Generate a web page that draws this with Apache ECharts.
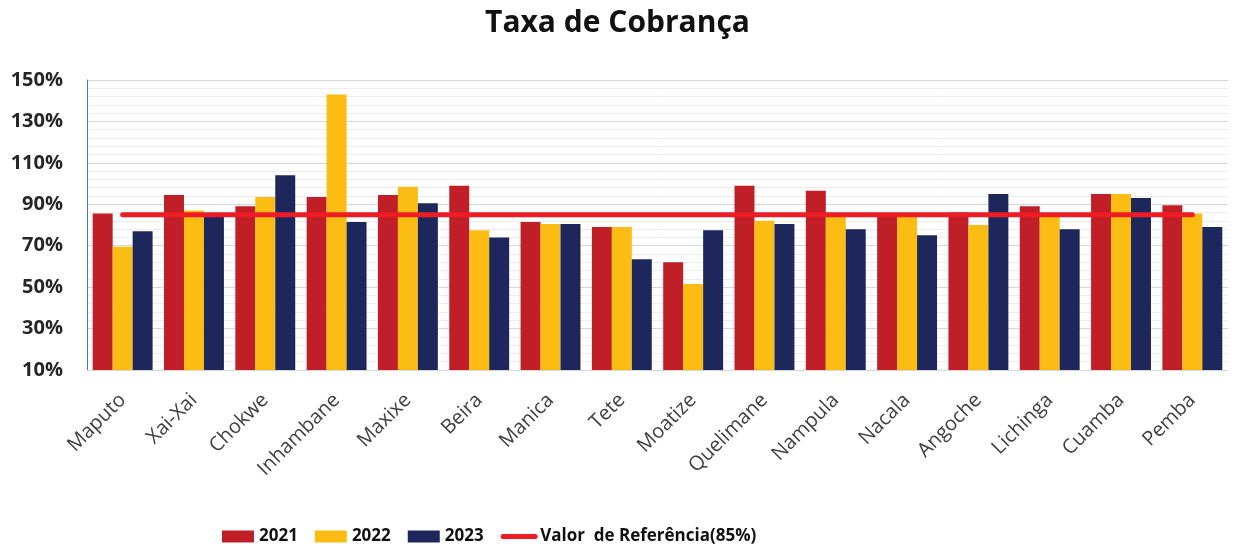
<!DOCTYPE html>
<html>
<head>
<meta charset="utf-8">
<script src="https://cdn.jsdelivr.net/npm/echarts@6/dist/echarts.min.js"></script>
<style>html,body{margin:0;padding:0;background:#fff;}#c{width:1235px;height:550px;}</style>
</head>
<body>
<div id="c"></div>
<script>
const categories = ['Maputo','Xai-Xai','Chokwe','Inhambane','Maxixe','Beira','Manica','Tete','Moatize','Quelimane','Nampula','Nacala','Angoche','Lichinga','Cuamba','Pemba'];
const values2021 = [85.5, 94.5, 89, 93.5, 94.5, 99, 81.5, 79, 62, 99, 96.5, 85, 86, 89, 95, 89.5];
const values2022 = [69.5, 87, 93.5, 143, 98.5, 77.5, 80.5, 79, 51.5, 82, 84.5, 85, 80, 84.5, 95, 85.5];
const values2023 = [77, 84, 104, 81.5, 90.5, 74, 80.5, 63.5, 77.5, 80.5, 78, 75, 95, 78, 93, 79];
const referenceValue = 85;
const referenceLine = categories.map(() => referenceValue);
const yTickLabels = [10, 30, 50, 70, 90, 110, 130, 150];

const chart = echarts.init(document.getElementById('c'), null, {renderer: 'canvas'});
const gridColors = [];
for (let k = 0; k < 10; k++) {
  gridColors.push(k === 0 ? '#d6d6d6' : (k % 2 === 0 ? '#ececec' : 'rgba(0,0,0,0)'));
}
chart.setOption({
  animation: false,
  title: {
    text: 'Taxa de Cobrança',
    left: 'center',
    top: 3,
    textStyle: {fontFamily: 'Open Sans', fontWeight: 'bold', fontSize: 30, color: '#111'}
  },
  legend: {
    left: 217,
    top: 523,
    itemGap: 17,
    itemWidth: 32,
    itemHeight: 12,
    textStyle: {fontFamily: 'Open Sans', fontWeight: 'bold', fontSize: 17, color: '#111'},
    data: [
      {name: '2021', icon: 'rect'},
      {name: '2022', icon: 'rect'},
      {name: '2023', icon: 'rect'},
      {name: 'Valor  de Referência(85%)', itemStyle: {opacity: 0}, lineStyle: {width: 5, color: '#ee1c24', cap: 'round'}}
    ]
  },
  grid: {left: 87, right: 7, top: 80, bottom: 180, containLabel: false},
  xAxis: {
    type: 'category',
    data: categories,
    axisLine: {lineStyle: {color: '#d6d6d6', width: 1}},
    axisTick: {show: false},
    axisLabel: {
      rotate: 45, margin: 27, interval: 0,
      fontFamily: 'Open Sans', fontSize: 20, color: '#404040'
    }
  },
  yAxis: {
    type: 'value',
    min: 10,
    max: 150,
    interval: 2,
    axisLine: {show: true, lineStyle: {color: '#4a78c8', width: 1}},
    axisTick: {show: false},
    axisLabel: {
      margin: 24,
      fontFamily: 'Open Sans', fontWeight: 'bold', fontSize: 20, color: '#262626',
      formatter: function (v) {
        const r = Math.round(v);
        return yTickLabels.indexOf(r) >= 0 ? r + '%' : '';
      }
    },
    splitLine: {show: true, lineStyle: {color: gridColors, width: 1}}
  },
  series: [
    {name: '2021', type: 'bar', data: values2021, barGap: '0%', barCategoryGap: '16%',
     itemStyle: {color: '#c01f27'}},
    {name: '2022', type: 'bar', data: values2022, barGap: '0%', barCategoryGap: '16%',
     itemStyle: {color: '#fbbd13'}},
    {name: '2023', type: 'bar', data: values2023, barGap: '0%', barCategoryGap: '16%',
     itemStyle: {color: '#1e275b'}},
    {name: 'Valor  de Referência(85%)', type: 'line', data: referenceLine, symbol: 'none',
     z: 5, lineStyle: {color: '#ee1c24', width: 5, cap: 'round'}, itemStyle: {color: '#ee1c24'}}
  ]
});
</script>
</body>
</html>
